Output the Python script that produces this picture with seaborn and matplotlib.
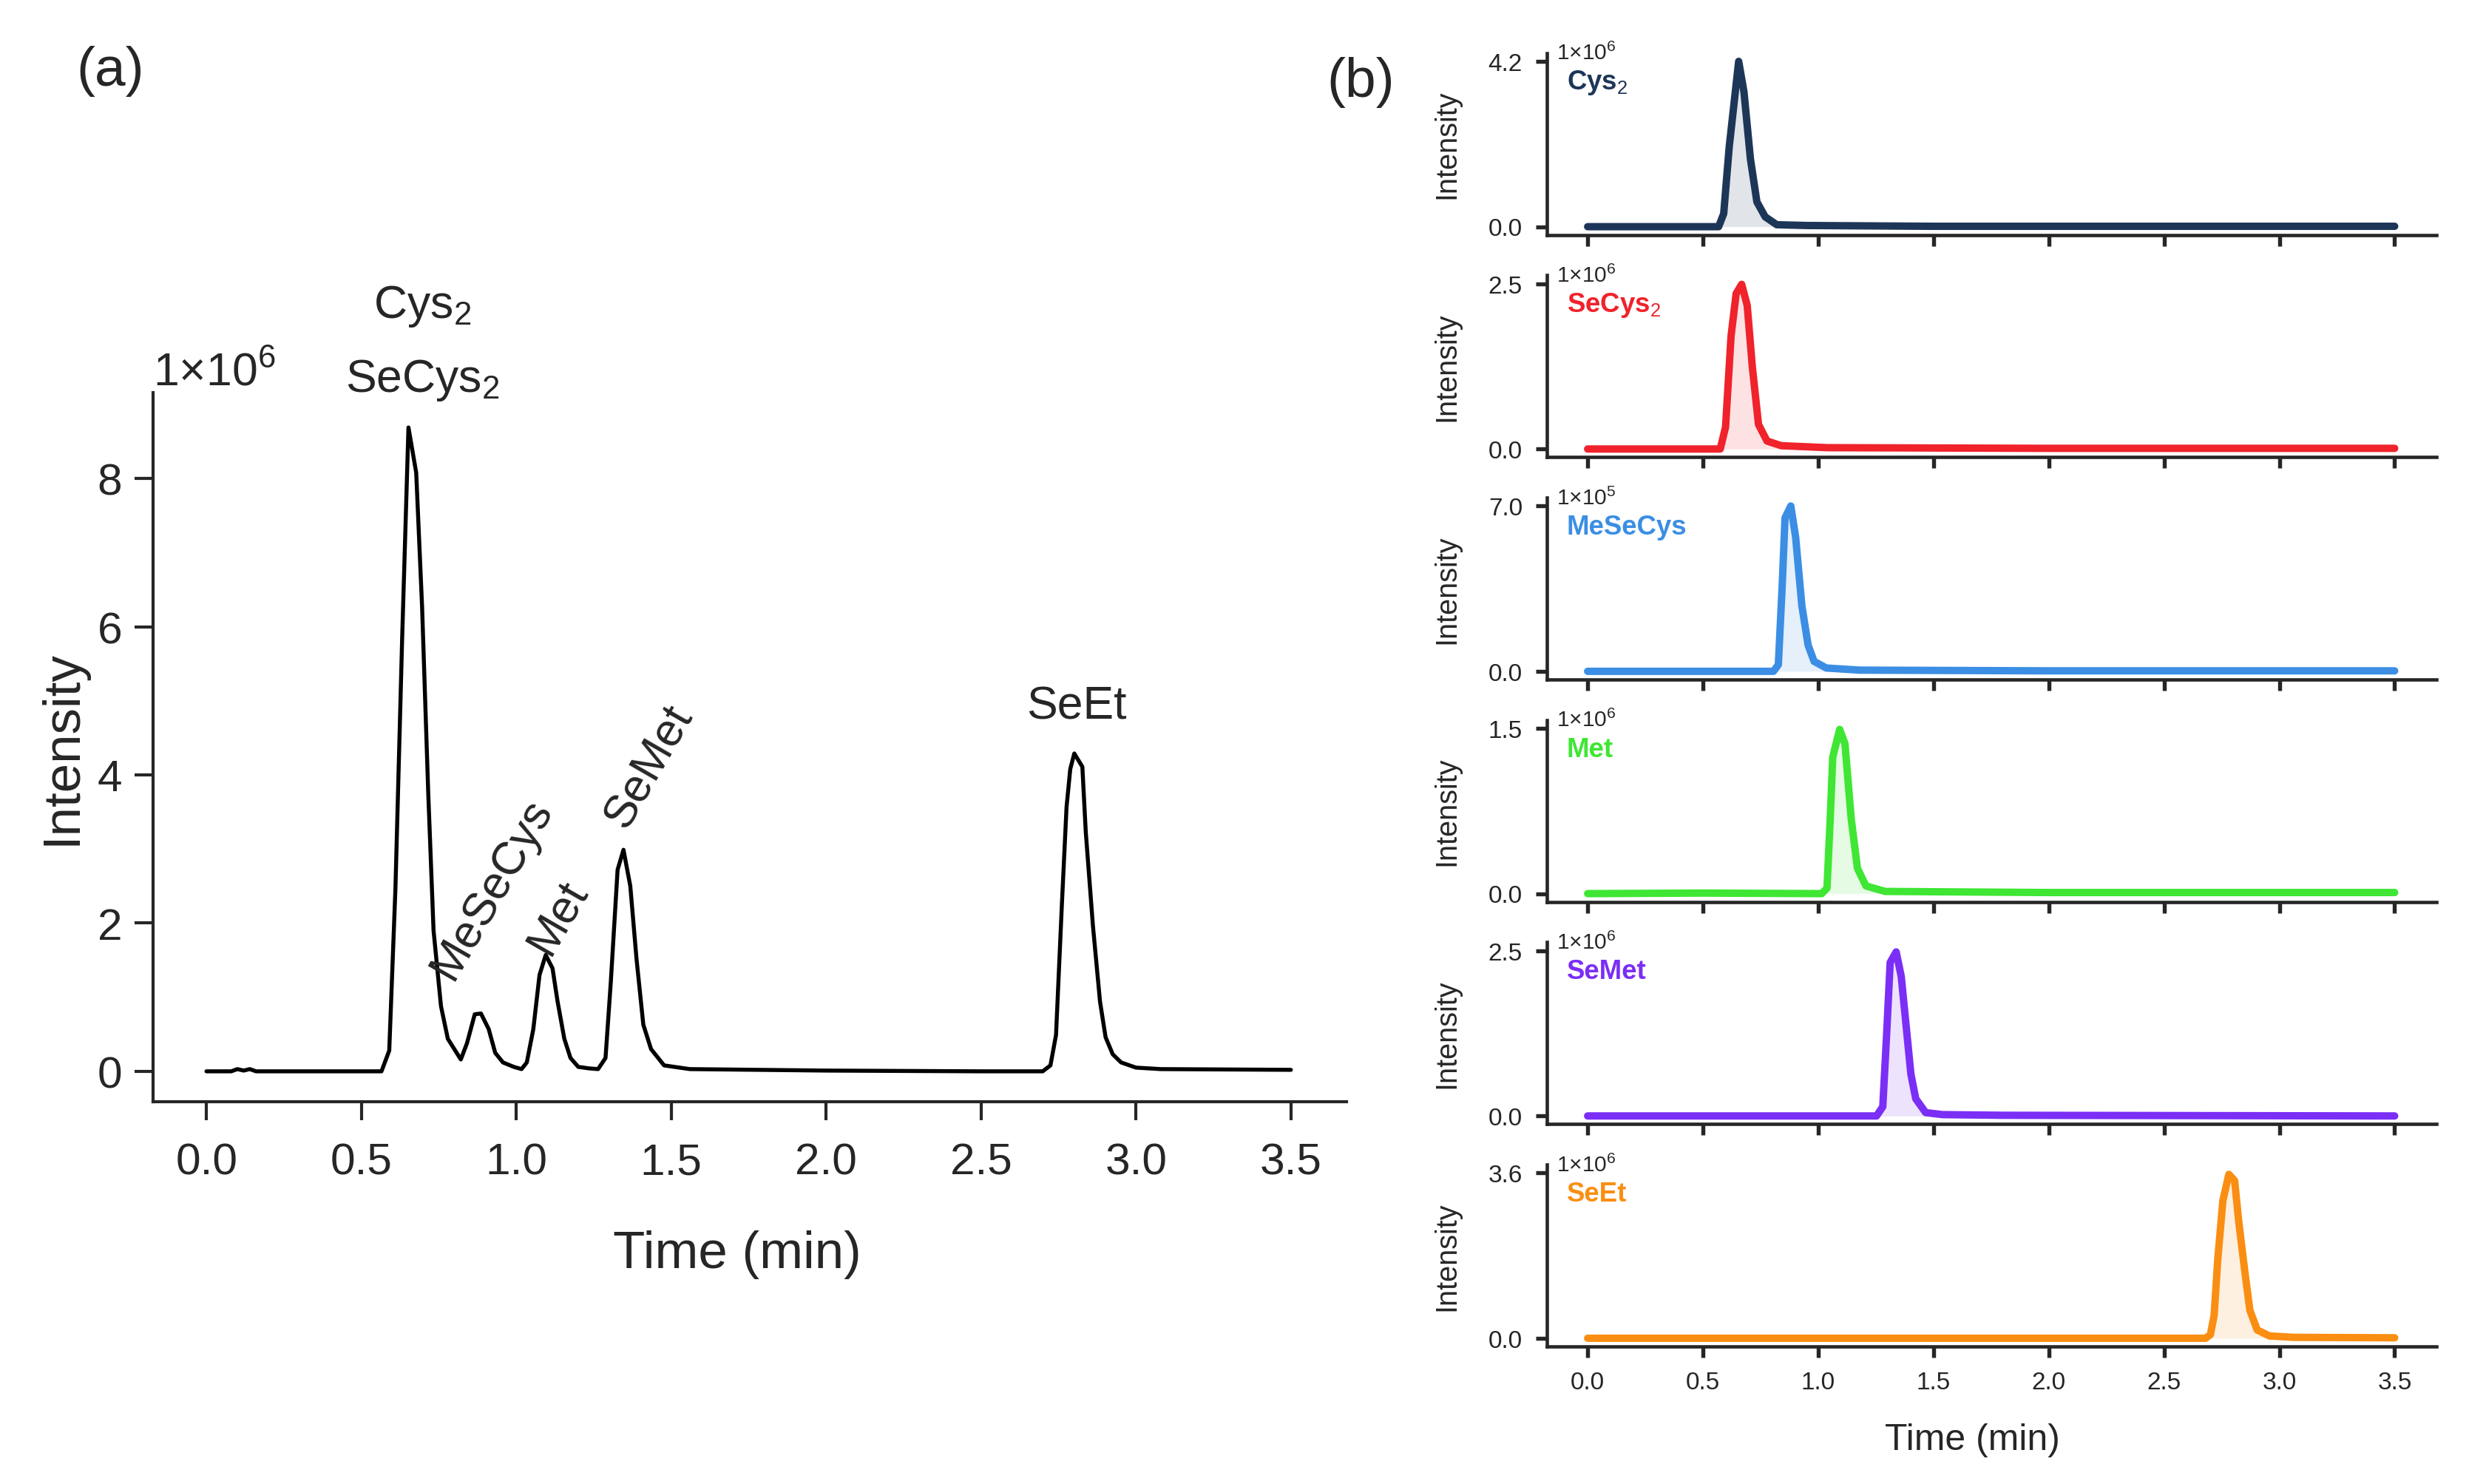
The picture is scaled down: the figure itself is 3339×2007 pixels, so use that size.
import numpy as np
import pandas as pd
import matplotlib
matplotlib.use("Agg")
import matplotlib.pyplot as plt
import seaborn as sns

# panel (a): total ion chromatogram, intensity in units of 1e6
time_a = [0.00, 0.08, 0.10, 0.12, 0.14, 0.16, 0.30, 0.45, 0.565, 0.59, 0.61, 0.632, 0.652,
          0.677, 0.696, 0.716, 0.733, 0.757, 0.779, 0.821, 0.841, 0.866, 0.886, 0.911, 0.932,
          0.957, 0.992, 1.017, 1.034, 1.055, 1.075, 1.095, 1.117, 1.133, 1.155, 1.175, 1.200,
          1.234, 1.264, 1.288, 1.305, 1.327, 1.346, 1.368, 1.388, 1.410, 1.435, 1.477, 1.56,
          2.00, 2.50, 2.699, 2.724, 2.742, 2.761, 2.776, 2.788, 2.801, 2.827, 2.838, 2.861,
          2.884, 2.902, 2.925, 2.952, 3.00, 3.08, 3.50]
int_a = [0.00, 0.00, 0.03, 0.01, 0.03, 0.00, 0.00, 0.00, 0.00, 0.28, 2.47, 5.89, 8.69,
         8.08, 6.27, 3.74, 1.90, 0.88, 0.44, 0.16, 0.38, 0.77, 0.78, 0.57, 0.25,
         0.12, 0.06, 0.03, 0.12, 0.57, 1.30, 1.57, 1.39, 0.95, 0.44, 0.18, 0.06,
         0.04, 0.03, 0.18, 1.20, 2.72, 2.99, 2.50, 1.52, 0.63, 0.30, 0.08, 0.03,
         0.01, 0.00, 0.00, 0.08, 0.49, 2.26, 3.57, 4.08, 4.29, 4.11, 3.23, 1.97,
         0.94, 0.46, 0.23, 0.12, 0.05, 0.03, 0.02]

# peak labels of panel (a): text, time, intensity, rotation
peak_names = ["Cys$_2$", "SeCys$_2$", "MeSeCys", "Met", "SeMet", "SeEt"]
peak_x = [0.697, 0.697, 0.921, 1.134, 1.427, 2.809]
peak_y = [10.33, 9.33, 2.47, 2.09, 4.12, 4.93]
peak_rot = [0, 0, 60, 60, 60, 0]

# panel (b): extracted ion chromatograms
names_b = ["Cys$_2$", "SeCys$_2$", "MeSeCys", "Met", "SeMet", "SeEt"]
colors_b = ["#1d3658", "#f0222b", "#3b8ee3", "#3fe634", "#7b2ef5", "#fa8e12"]
exponents_b = [6, 6, 5, 6, 6, 6]
top_ticks_b = [4.2, 2.5, 7.0, 1.5, 2.5, 3.6]

t_cys2 = [0, 0.3, 0.568, 0.59, 0.614, 0.655, 0.678, 0.706, 0.734, 0.77, 0.82, 0.95, 1.5, 2.5, 3.5]
v_cys2 = [0, 0, 0, 0.33, 2.03, 4.2, 3.42, 1.72, 0.63, 0.25, 0.05, 0.03, 0.01, 0.01, 0.01]
t_secys2 = [0, 0.3, 0.575, 0.598, 0.622, 0.644, 0.668, 0.692, 0.714, 0.741, 0.778, 0.84, 1.04, 2.0, 3.5]
v_secys2 = [0, 0, 0, 0.33, 1.71, 2.35, 2.49, 2.17, 1.25, 0.37, 0.12, 0.05, 0.02, 0.01, 0.01]
t_mesecys = [0, 0.4, 0.806, 0.827, 0.843, 0.856, 0.881, 0.902, 0.929, 0.956, 0.982, 1.035, 1.18, 2.0, 3.5]
v_mesecys = [0, 0, 0, 0.28, 3.47, 6.5, 7.0, 5.68, 2.78, 1.11, 0.42, 0.14, 0.05, 0.02, 0.02]
t_met = [0, 0.5, 1.015, 1.038, 1.052, 1.063, 1.093, 1.116, 1.143, 1.17, 1.207, 1.29, 2.0, 3.5]
v_met = [0, 0.005, 0, 0.05, 0.68, 1.24, 1.49, 1.36, 0.68, 0.23, 0.07, 0.02, 0.01, 0.01]
t_semet = [0, 0.6, 1.253, 1.28, 1.296, 1.312, 1.338, 1.36, 1.381, 1.402, 1.423, 1.466, 1.54, 1.8, 3.5]
v_semet = [0, 0, 0, 0.14, 1.19, 2.32, 2.48, 2.11, 1.37, 0.63, 0.26, 0.05, 0.02, 0.01, 0.0]
t_seet = [0, 1.5, 2.68, 2.701, 2.717, 2.733, 2.755, 2.781, 2.806, 2.824, 2.85, 2.872, 2.904, 2.957, 3.06, 3.5]
v_seet = [0, 0, 0, 0.08, 0.5, 1.73, 3.0, 3.57, 3.43, 2.53, 1.46, 0.61, 0.18, 0.05, 0.02, 0.01]

times_b = [t_cys2, t_secys2, t_mesecys, t_met, t_semet, t_seet]
values_b = [v_cys2, v_secys2, v_mesecys, v_met, v_semet, v_seet]

x_ticks = [0.0, 0.5, 1.0, 1.5, 2.0, 2.5, 3.0, 3.5]

sns.set_style("ticks")
plt.rcParams["font.family"] = ["Liberation Sans", "DejaVu Sans"]
plt.rcParams["mathtext.fontset"] = "custom"
plt.rcParams["mathtext.rm"] = "Liberation Sans"
plt.rcParams["mathtext.it"] = "Liberation Sans:italic"
plt.rcParams["mathtext.bf"] = "Liberation Sans:bold"
plt.rcParams["mathtext.default"] = "rm"

fig = plt.figure(figsize=(11.13, 6.693), dpi=300)

# ---- panel (a)
ax = fig.add_axes([0.0619, 0.2575, 0.4834, 0.4776])
df_a = pd.DataFrame({"time": time_a, "intensity": int_a})
sns.lineplot(data=df_a, x="time", y="intensity", color="black", linewidth=1.3, ax=ax)
ax.set_xlim(-0.173, 3.679)
ax.set_ylim(-0.41, 9.16)
ax.set_xticks(x_ticks)
ax.set_xticklabels([f"{t:.1f}" for t in x_ticks])
ax.set_yticks([0, 2, 4, 6, 8])
ax.tick_params(labelsize=14.5, length=6, width=1.0, direction="out")
ax.tick_params(axis="x", pad=7)
ax.tick_params(axis="y", pad=4)
for s in ["left", "bottom"]:
    ax.spines[s].set_linewidth(1.0)
sns.despine(ax=ax)
ax.set_xlabel("Time (min)", fontsize=17)
ax.set_ylabel("Intensity", fontsize=17)
ax.xaxis.set_label_coords(0.4895, -0.181)
ax.yaxis.set_label_coords(-0.055, 0.5)
ax.text(0.0, 1.028, "1×10$^6$", transform=ax.transAxes, fontsize=15, ha="left", va="center")
for name, px, py, rot in zip(peak_names, peak_x, peak_y, peak_rot):
    ax.text(px, py, name, fontsize=15, ha="center", va="center", rotation=rot,
            rotation_mode="anchor", clip_on=False)

fig.text(0.0446, 0.952, "(a)", fontsize=18, ha="center", va="center")
fig.text(0.551, 0.9447, "(b)", fontsize=18, ha="center", va="center")

# ---- panel (b)
for i in range(6):
    bottom = 0.8413 - i * 0.14974
    axb = fig.add_axes([0.6266, bottom, 0.3601, 0.1225])
    df_b = pd.DataFrame({"time": times_b[i], "intensity": values_b[i]})
    axb.fill_between(df_b["time"], df_b["intensity"], 0, color=colors_b[i], alpha=0.13, linewidth=0)
    sns.lineplot(data=df_b, x="time", y="intensity", color=colors_b[i], linewidth=2.4, ax=axb)
    top = top_ticks_b[i]
    axb.set_xlim(-0.176, 3.68)
    axb.set_ylim(-0.05 * top, 1.05 * top)
    axb.set_yticks([0, top])
    axb.set_yticklabels(["0.0", f"{top:.1f}"])
    axb.set_xticks(x_ticks)
    if i < 5:
        axb.set_xticklabels([])
        axb.set_xlabel("")
    else:
        axb.set_xticklabels([f"{t:.1f}" for t in x_ticks])
        axb.set_xlabel("Time (min)", fontsize=12)
        axb.xaxis.set_label_coords(0.478, -0.42)
    axb.tick_params(labelsize=8, length=3.5, width=1.3, direction="out", pad=4.5)
    for s in ["left", "bottom"]:
        axb.spines[s].set_linewidth(1.1)
    sns.despine(ax=axb)
    axb.set_ylabel("Intensity", fontsize=9.5)
    axb.yaxis.set_label_coords(-0.097, 0.5)
    axb.text(0.011, 0.965, f"1×10$^{exponents_b[i]}$", transform=axb.transAxes,
             fontsize=7.2, ha="left", va="baseline")
    axb.text(0.022, 0.84, names_b[i], transform=axb.transAxes, fontsize=8.8,
             fontweight="bold", color=colors_b[i], ha="left", va="center")

fig.savefig("out.png", dpi=300)
